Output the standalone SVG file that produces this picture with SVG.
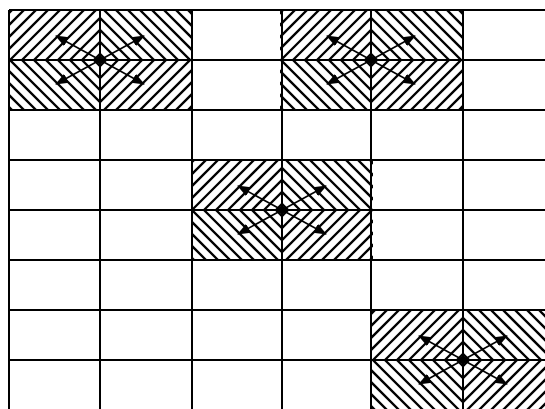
<svg xmlns="http://www.w3.org/2000/svg" width="545" height="409" viewBox="0 0 545 409">
<style>
.grid{stroke:#000;stroke-width:2;fill:none}
.hatch{stroke:#000;stroke-width:2.3;fill:none}
.arr{stroke:#000;stroke-width:1.6;fill:none;marker-end:url(#ah)}
</style>
<defs>
<clipPath id="blk" clipPathUnits="userSpaceOnUse"><rect x="-91" y="-50" width="182" height="100"/></clipPath>
<marker id="ah" markerUnits="userSpaceOnUse" markerWidth="14" markerHeight="10" refX="12" refY="5" orient="auto"><path d="M0,0 L13,5 L0,10 Z" fill="#000"/></marker>
<g id="diam">
<path class="hatch" d="M-6 0L0-6L6 0L0 6Z M-18 0L0-18L18 0L0 18Z M-30 0L0-30L30 0L0 30Z M-42 0L0-42L42 0L0 42Z M-54 0L0-54L54 0L0 54Z M-66 0L0-66L66 0L0 66Z M-78 0L0-78L78 0L0 78Z M-90 0L0-90L90 0L0 90Z M-102 0L0-102L102 0L0 102Z M-114 0L0-114L114 0L0 114Z M-126 0L0-126L126 0L0 126Z M-138 0L0-138L138 0L0 138Z"/>
</g>
<g id="star">
<path class="arr" d="M0 0L-44-24"/>
<path class="arr" d="M0 0L44-24"/>
<path class="arr" d="M0 0L-44 24"/>
<path class="arr" d="M0 0L44 24"/>
<circle r="3.5" fill="#000"/>
</g>
</defs>
<rect width="545" height="409" fill="#fff"/>
<g id="block1" transform="translate(100,60)"><g clip-path="url(#blk)"><use href="#diam"/></g><use href="#star"/></g>
<g id="block2" transform="translate(371,60)"><g clip-path="url(#blk)"><use href="#diam"/></g><use href="#star"/></g>
<g id="block3" transform="translate(282,210)"><g clip-path="url(#blk)"><use href="#diam"/></g><use href="#star"/></g>
<g id="block4" transform="translate(463,360)"><g clip-path="url(#blk)"><use href="#diam"/></g><use href="#star"/></g>
<g id="grid" class="grid">
<path d="M9 10H545 M9 60H545 M9 110H545 M9 160H545 M9 210H545 M9 260H545 M9 310H545 M9 360H545"/>
<path d="M9 10V409 M100 10V409 M192 10V409 M282 10V409 M371 10V409 M463 10V409"/>
</g>
</svg>
